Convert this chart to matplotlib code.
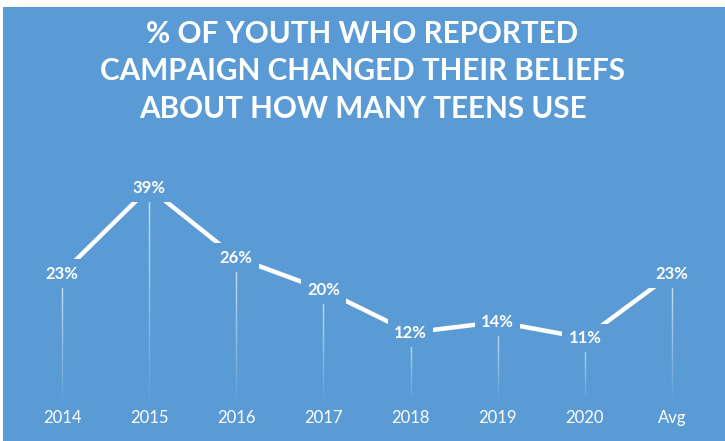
import numpy as np
import matplotlib
matplotlib.use("Agg")
import matplotlib.pyplot as plt
from matplotlib.collections import LineCollection
from matplotlib.patches import Rectangle

categories = ["2014", "2015", "2016", "2017", "2018", "2019", "2020", "Avg"]
values = [23, 39, 26, 20, 12, 14, 11, 23]
title_lines = ["% OF YOUTH WHO REPORTED",
               "CAMPAIGN CHANGED THEIR BELIEFS",
               "ABOUT HOW MANY TEENS USE"]

BLUE = "#5B9BD5"


def main():
    fig = plt.figure(figsize=(7.25, 4.41), dpi=100)
    fig.patch.set_facecolor("white")

    ax = fig.add_axes([0, 0, 1, 1])
    ax.set_facecolor("none")
    ax.axis("off")
    ax.add_patch(Rectangle((3 / 725, 0), 1, 1 - 7 / 441, transform=fig.transFigure,
                           facecolor=BLUE, edgecolor="none", zorder=0))
    x = np.arange(len(categories))
    ax.set_xlim(-0.711, 7.608)
    ax.set_ylim(-8.21, 74.07)

    # drop lines fading toward the bottom
    for xi, v in zip(x, values):
        n = 30
        ys = np.linspace(0, v, n + 1)
        segs = [[(xi, ys[k]), (xi, ys[k + 1])] for k in range(n)]
        alphas = np.linspace(0.05, 0.75, n)
        colors = [(1, 1, 1, a) for a in alphas]
        ax.add_collection(LineCollection(segs, colors=colors, linewidths=1.0, zorder=1))

    ax.plot(x, values, color="white", lw=3.2, solid_capstyle="butt", zorder=2)

    for xi, v in zip(x, values):
        ax.text(xi, v, "{}%".format(v), ha="center", va="center", color="white",
                fontsize=12, fontweight="bold", family="Lato", zorder=3,
                bbox=dict(facecolor=BLUE, edgecolor="none", pad=4.5))

    for xi, c in zip(x, categories):
        ax.text(xi, -4.0, c, ha="center", va="center", color="white",
                fontsize=12, family="Lato", zorder=3)

    for i, line in enumerate(title_lines):
        fig.text(0.5, 1 - (34 + 37.5 * i) / 441, line, ha="center", va="center", color="white",
                 fontsize=21.3, fontweight="bold", family=["Liberation Sans Narrow", "Lato"])

    fig.savefig("out.png", dpi=100)


if __name__ == '__main__':
    main()
